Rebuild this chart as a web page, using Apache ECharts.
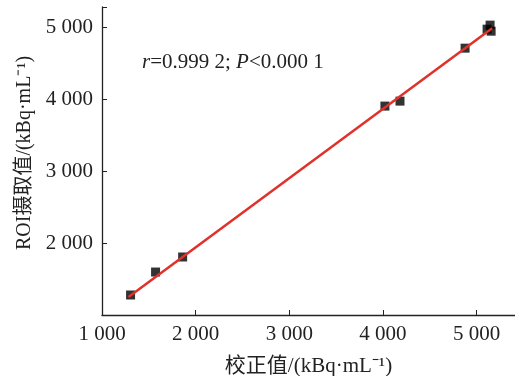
<!DOCTYPE html>
<html>
<head>
<meta charset="utf-8">
<script src="https://cdn.jsdelivr.net/npm/echarts@6/dist/echarts.min.js"></script>
<style>
  html, body { margin: 0; padding: 0; background: #fff; }
  #chart { width: 515px; height: 376px; }
</style>
</head>
<body>
<div id="chart"></div>
<script>
// measured points (calibrated value vs ROI uptake)
const calibValues = [1305, 1572, 1861, 4021, 4182, 4877, 5144, 5112, 5155];
const roiValues = [1278, 1597, 1806, 3903, 3972, 4708, 5028, 4972, 4944];

// fitted line ends
const fitX = [1283, 5166];
const fitY = [1250, 4986];

const xTicks = [1000, 2000, 3000, 4000, 5000];
const yTicks = [2000, 3000, 4000, 5000];

const serif = '"Liberation Serif", "Times New Roman", "Noto Sans CJK SC", serif';
const axisColor = '#222';

const fmt = v => {
  const s = String(v);
  return s.length > 3 ? s.slice(0, s.length - 3) + ' ' + s.slice(-3) : s;
};

const chart = echarts.init(document.getElementById('chart'));

const option = {
  animation: false,
  backgroundColor: '#fff',
  grid: { left: 102, right: 0, top: 7, bottom: 61, outerBoundsMode: 'none', containLabel: false },
  xAxis: {
    type: 'value',
    min: 1000,
    max: 5410,
    interval: 1000,
    name: '校正值/(kBq·mL⁻¹)',
    nameLocation: 'middle',
    nameGap: 41,
    nameTextStyle: { fontFamily: serif, fontSize: 21, color: '#222' },
    axisLine: { show: true, lineStyle: { color: axisColor, width: 1.3 } },
    axisTick: { show: true, inside: true, length: 5, lineStyle: { color: axisColor } },
    axisLabel: {
      margin: 9,
      fontFamily: serif,
      fontSize: 21,
      color: '#222',
      formatter: v => xTicks.includes(v) ? fmt(v) : ''
    },
    splitLine: { show: false }
  },
  yAxis: {
    type: 'value',
    min: 1000,
    max: 5280,
    interval: 1000,
    name: 'ROI摄取值/(kBq·mL⁻¹)',
    nameLocation: 'middle',
    nameGap: 62,
    nameTextStyle: { fontFamily: serif, fontSize: 20, color: '#222', padding: [0, 0, 0, 16] },
    axisLine: { show: true, lineStyle: { color: axisColor, width: 1.3 } },
    axisTick: { show: true, inside: true, length: 5, lineStyle: { color: axisColor } },
    axisLabel: {
      margin: 9,
      fontFamily: serif,
      fontSize: 21,
      color: '#222',
      formatter: v => yTicks.includes(v) ? fmt(v) : ''
    },
    splitLine: { show: false }
  },
  graphic: [{
    type: 'text',
    left: 142,
    top: 52,
    style: {
      text: '{i|r}=0.999 2; {i|P}<0.000 1',
      fontFamily: serif,
      fontSize: 21,
      fill: '#222',
      rich: {
        i: { fontFamily: serif, fontSize: 21, fontStyle: 'italic', color: '#222' }
      }
    }
  }],
  series: [
    {
      type: 'scatter',
      symbol: 'rect',
      symbolSize: 9,
      itemStyle: { color: '#000' },
      data: calibValues.map((x, i) => [x, roiValues[i]]),
      z: 2
    },
    {
      type: 'line',
      symbol: 'none',
      lineStyle: { color: '#e0312b', width: 2.5 },
      data: fitX.map((x, i) => [x, fitY[i]]),
      z: 3
    }
  ]
};

chart.setOption(option);
</script>
</body>
</html>
